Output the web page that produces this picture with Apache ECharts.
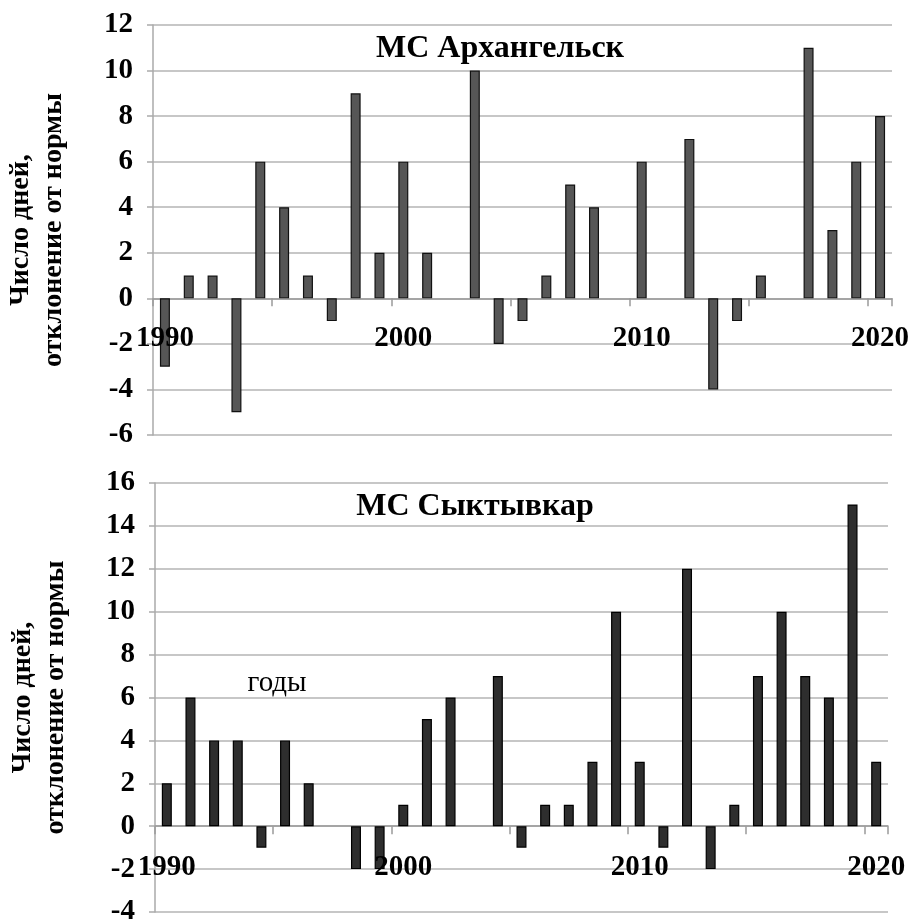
<!DOCTYPE html>
<html>
<head>
<meta charset="utf-8">
<script src="https://cdn.jsdelivr.net/npm/echarts@6/dist/echarts.min.js"></script>
<style>
html,body{margin:0;padding:0;background:#fff;}
#chart{width:909px;height:919px;}
</style>
</head>
<body>
<div id="chart"></div>
<script>
const years = ['1990','1991','1992','1993','1994','1995','1996','1997','1998','1999','2000','2001','2002','2003','2004','2005','2006','2007','2008','2009','2010','2011','2012','2013','2014','2015','2016','2017','2018','2019','2020'];
const arkhangelsk = [-3,1,1,-5,6,4,1,-1,9,2,6,2,0,10,-2,-1,1,5,4,0,6,0,7,-4,-1,1,0,11,3,6,8];
const syktyvkar = [2,6,4,4,-1,4,2,0,-2,-2,1,5,6,0,7,-1,1,1,3,10,3,-1,12,-2,1,7,10,7,6,15,3];
const titleTop = 'МС Архангельск';
const titleBottom = 'МС Сыктывкар';
const yName = 'Число дней,\nотклонение от нормы';
const xNote = 'годы';

const FONT = '"Liberation Serif", "Times New Roman", serif';
const chart = echarts.init(document.getElementById('chart'));

function xAxisCfg(gridIndex) {
  return {
    type: 'category', gridIndex: gridIndex, data: years,
    axisLine: {onZero: true, lineStyle: {color: '#9a9a9a', width: 1.5}},
    axisTick: {show: true, alignWithLabel: false, length: 8, inside: false,
      interval: function (i) { return i % 5 === 0; },
      lineStyle: {color: '#9a9a9a', width: 1.5}},
    axisLabel: {show: false},
    splitLine: {show: false}
  };
}
function xLabelAxisCfg(gridIndex, offset) {
  return {
    type: 'category', gridIndex: gridIndex, data: years, position: 'bottom', offset: offset, z: 5,
    axisLine: {show: false, onZero: false},
    axisTick: {show: false},
    axisLabel: {interval: function (i) { return i % 10 === 0; }, margin: 0,
      fontFamily: FONT, fontWeight: 'bold', fontSize: 29, color: '#000'},
    splitLine: {show: false}
  };
}
function yAxisCfg(gridIndex, min, max) {
  return {
    type: 'value', gridIndex: gridIndex, min: min, max: max, interval: 2,
    name: yName, nameLocation: 'middle', nameGap: 83, nameRotate: 90,
    nameTextStyle: {fontFamily: FONT, fontWeight: 'bold', fontSize: 28, color: '#000', lineHeight: 33},
    axisLine: {show: true, lineStyle: {color: '#aaaaaa', width: 1.5}},
    axisTick: {show: true, length: 6, lineStyle: {color: '#aaaaaa', width: 1.5}},
    axisLabel: {margin: 20, fontFamily: FONT, fontWeight: 'bold', fontSize: 29, color: '#000'},
    splitLine: {show: true, lineStyle: {color: '#b4b4b4', width: 1.5}}
  };
}
function barData(values) {
  return values.map(function (v) {
    return v === 0 ? {value: v, itemStyle: {borderWidth: 0, opacity: 0}} : v;
  });
}

chart.setOption({
  backgroundColor: '#fff',
  animation: false,
  grid: [
    {left: 153, right: 17, top: 25, height: 410, containLabel: false, outerBoundsMode: 'none'},
    {left: 155, right: 21, top: 483, height: 429, containLabel: false, outerBoundsMode: 'none'}
  ],
  xAxis: [xAxisCfg(0), xAxisCfg(1), xLabelAxisCfg(0, -111), xLabelAxisCfg(1, -59)],
  yAxis: [yAxisCfg(0, -6, 12), yAxisCfg(1, -4, 16)],
  series: [
    {type: 'bar', xAxisIndex: 0, yAxisIndex: 0, data: barData(arkhangelsk), barWidth: 10,
      itemStyle: {color: '#565656', borderColor: '#111111', borderWidth: 1.2}},
    {type: 'bar', xAxisIndex: 1, yAxisIndex: 1, data: barData(syktyvkar), barWidth: 10,
      itemStyle: {color: '#2e2e2e', borderColor: '#000000', borderWidth: 1.2}}
  ],
  graphic: [
    {type: 'text', x: 500, y: 49, z: 10, style: {text: titleTop, font: 'bold 32px ' + FONT, fill: '#000', textAlign: 'center', textVerticalAlign: 'middle'}},
    {type: 'text', x: 475, y: 507, z: 10, style: {text: titleBottom, font: 'bold 32px ' + FONT, fill: '#000', textAlign: 'center', textVerticalAlign: 'middle'}},
    {type: 'text', x: 277, y: 683, z: 10, style: {text: xNote, font: 'normal 29px ' + FONT, fill: '#000', textAlign: 'center', textVerticalAlign: 'middle'}}
  ]
});
</script>
</body>
</html>
